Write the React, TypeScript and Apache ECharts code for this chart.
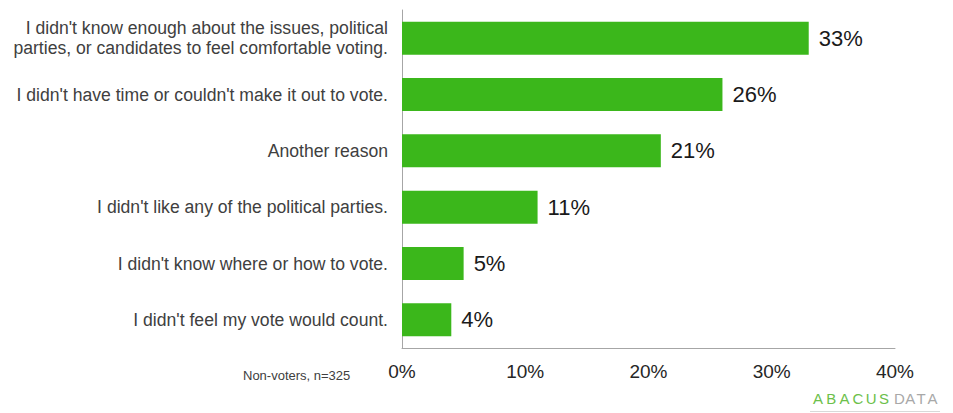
import React, { useEffect, useRef } from "react";
import * as echarts from "echarts";

const categories = [
  "I didn't know enough about the issues, political\nparties, or candidates to feel comfortable voting.",
  "I didn't have time or couldn't make it out to vote.",
  "Another reason",
  "I didn't like any of the political parties.",
  "I didn't know where or how to vote.",
  "I didn't feel my vote would count.",
];
const values = [33, 26, 21, 11, 5, 4];
const xTicks = [0, 10, 20, 30, 40];
const note = "Non-voters, n=325";
const logoGreen = "ABACUS";
const logoGray = "DATA";

export default function App() {
  const ref = useRef<HTMLDivElement>(null);
  useEffect(() => {
    if (!ref.current) return;
    const chart = echarts.init(ref.current, undefined, { renderer: "svg" });
    const font = "Liberation Sans, Arial, sans-serif";
    const logoEls: any[] = [];
    logoGreen.split("").forEach((ch, i) => {
      logoEls.push({
        type: "text",
        left: 813 + i * 13.2,
        top: 391,
        style: { text: ch, fill: "#6cc04a", font: `15px ${font}` },
      });
    });
    logoGray.split("").forEach((ch, i) => {
      logoEls.push({
        type: "text",
        left: 894 + i * 11.2,
        top: 391,
        style: { text: ch, fill: "#a8a8a8", font: `15px ${font}` },
      });
    });
    chart.setOption({
      animation: false,
      backgroundColor: "#ffffff",
      grid: { left: 402, right: 58, top: 10, bottom: 65, containLabel: false },
      xAxis: {
        type: "value",
        min: xTicks[0],
        max: xTicks[xTicks.length - 1],
        interval: 10,
        axisLine: { show: true, lineStyle: { color: "#a6a6a6", width: 1 } },
        axisTick: { show: false },
        splitLine: { show: false },
        axisLabel: {
          formatter: (v: number) => `${v}%`,
          fontFamily: font,
          fontSize: 19,
          color: "#262626",
          margin: 14,
        },
      },
      yAxis: {
        type: "category",
        data: categories,
        inverse: true,
        axisLine: { show: true, lineStyle: { color: "#a6a6a6", width: 1 } },
        axisTick: { show: false },
        axisLabel: {
          fontFamily: font,
          fontSize: 17.6,
          color: "#404040",
          margin: 14,
          lineHeight: 20,
          align: "right",
        },
      },
      series: [
        {
          type: "bar",
          data: values,
          barWidth: 33,
          itemStyle: { color: "#3bb71b" },
          label: {
            show: true,
            position: "right",
            distance: 10,
            formatter: (p: any) => `${p.value}%`,
            fontFamily: font,
            fontSize: 22,
            color: "#1a1a1a",
          },
        },
      ],
      graphic: [
        {
          type: "text",
          left: 243,
          top: 369,
          style: { text: note, fill: "#404040", font: `13px ${font}` },
        },
        ...logoEls,
        {
          type: "line",
          shape: { x1: 810, y1: 411.5, x2: 940, y2: 411.5 },
          style: { stroke: "#d9d9d9", lineWidth: 1 },
        },
      ],
    });
    return () => chart.dispose();
  }, []);
  return (
    <div
      ref={ref}
      style={{ position: "fixed", left: 0, top: 0, width: 953, height: 413, background: "#fff" }}
    />
  );
}
